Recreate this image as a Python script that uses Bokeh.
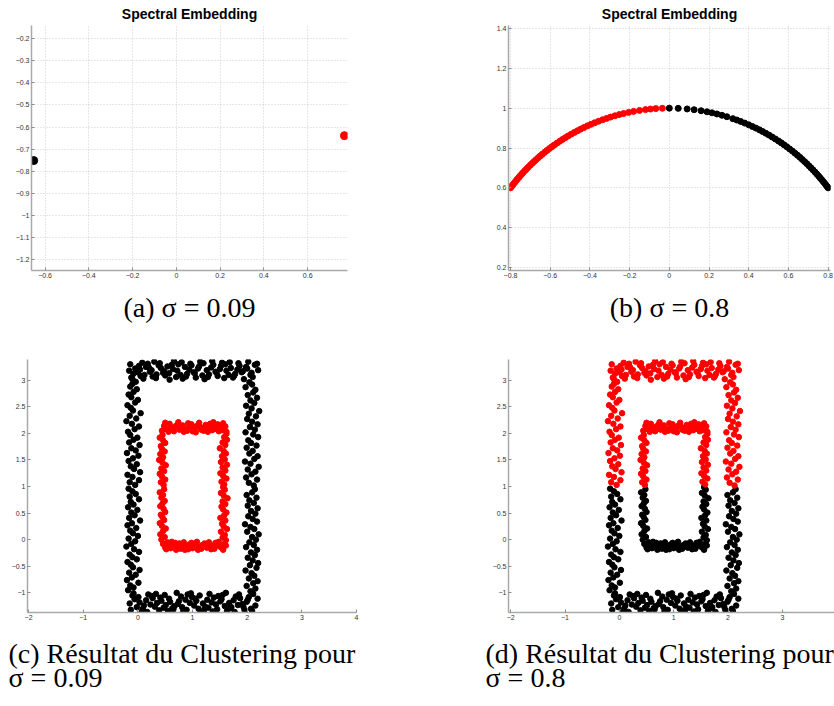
from bokeh.plotting import figure
from bokeh.models import Range1d, FixedTicker, Title
from bokeh.layouts import column, row
from bokeh.embed import file_html
from bokeh.resources import INLINE

RED = "#ff0000"
BLACK = "#000000"

# ---------------- (a) spectral embedding, sigma = 0.09 ----------------
a_black_x = [-0.652]
a_black_y = [-0.752]
a_red_x = [0.768]
a_red_y = [-0.639]
a_xticks = [-0.6, -0.4, -0.2, 0, 0.2, 0.4, 0.6]
a_xlabels = ["\u22120.6", "\u22120.4", "\u22120.2", "0", "0.2", "0.4", "0.6"]
a_yticks = [-1.2, -1.1, -1, -0.9, -0.8, -0.7, -0.6, -0.5, -0.4, -0.3, -0.2]
a_ylabels = ["\u22121.2", "\u22121.1", "\u22121", "\u22120.9", "\u22120.8", "\u22120.7",
             "\u22120.6", "\u22120.5", "\u22120.4", "\u22120.3", "\u22120.2"]

# ---------------- (b) spectral embedding, sigma = 0.8 ----------------
b_red_x = [-0.800, -0.795, -0.790, -0.785, -0.778, -0.771, -0.765, -0.757, -0.750, -0.742,
           -0.735, -0.726, -0.718, -0.710, -0.700, -0.690, -0.681, -0.671, -0.660, -0.650,
           -0.640, -0.628, -0.616, -0.604, -0.592, -0.580, -0.566, -0.552, -0.538, -0.524,
           -0.510, -0.494, -0.478, -0.462, -0.446, -0.430, -0.412, -0.394, -0.376, -0.356,
           -0.336, -0.316, -0.296, -0.274, -0.252, -0.230, -0.205, -0.180, -0.150, -0.120,
           -0.095, -0.068, -0.035]
b_red_y = [0.6000, 0.6066, 0.6131, 0.6195, 0.6283, 0.6369, 0.6440, 0.6534, 0.6614, 0.6704,
           0.6781, 0.6877, 0.6961, 0.7042, 0.7141, 0.7238, 0.7323, 0.7415, 0.7513, 0.7599,
           0.7684, 0.7782, 0.7877, 0.7970, 0.8059, 0.8146, 0.8244, 0.8338, 0.8430, 0.8517,
           0.8602, 0.8695, 0.8784, 0.8869, 0.8951, 0.9028, 0.9112, 0.9191, 0.9266, 0.9345,
           0.9419, 0.9487, 0.9552, 0.9617, 0.9677, 0.9732, 0.9788, 0.9837, 0.9887, 0.9928,
           0.9955, 0.9977, 0.9994]
b_black_x = [0.000, 0.045, 0.090, 0.125, 0.160, 0.190, 0.215, 0.240, 0.265, 0.290,
             0.320, 0.340, 0.360, 0.380, 0.400, 0.418, 0.436, 0.454, 0.470, 0.486,
             0.502, 0.518, 0.534, 0.550, 0.564, 0.578, 0.592, 0.606, 0.620, 0.633,
             0.646, 0.658, 0.670, 0.682, 0.693, 0.704, 0.714, 0.724, 0.734, 0.743,
             0.752, 0.760, 0.768, 0.776, 0.783, 0.790, 0.796, 0.800]
b_black_y = [1.0000, 0.9990, 0.9959, 0.9922, 0.9871, 0.9818, 0.9766, 0.9708, 0.9642, 0.9570,
             0.9474, 0.9404, 0.9330, 0.9250, 0.9165, 0.9084, 0.9000, 0.8910, 0.8827, 0.8740,
             0.8649, 0.8554, 0.8455, 0.8352, 0.8258, 0.8160, 0.8059, 0.7955, 0.7846, 0.7741,
             0.7633, 0.7530, 0.7424, 0.7314, 0.7210, 0.7102, 0.7001, 0.6898, 0.6791, 0.6693,
             0.6592, 0.6499, 0.6405, 0.6307, 0.6220, 0.6131, 0.6055, 0.6000]
b_xticks = [-0.8, -0.6, -0.4, -0.2, 0, 0.2, 0.4, 0.6, 0.8]
b_xlabels = ["\u22120.8", "\u22120.6", "\u22120.4", "\u22120.2", "0", "0.2", "0.4", "0.6", "0.8"]
b_yticks = [0.2, 0.4, 0.6, 0.8, 1, 1.2, 1.4]
b_ylabels = ["0.2", "0.4", "0.6", "0.8", "1", "1.2", "1.4"]

# ---------------- (c)/(d) data set: two noisy rectangles ----------------
# outer rectangle, top band
ot_x = [-0.16, -0.12, -0.14, -0.08, -0.05, -0.10, 0.02, 0.00, 0.05, 0.08,
        0.04, 0.12, 0.15, 0.10, 0.18, 0.22, 0.20, 0.27, 0.30, 0.25,
        0.34, 0.38, 0.33, 0.42, 0.46, 0.40, 0.50, 0.54, 0.48, 0.58,
        0.62, 0.57, 0.66, 0.70, 0.64, 0.74, 0.78, 0.72, 0.82, 0.86,
        0.80, 0.90, 0.94, 0.88, 0.98, 1.02, 0.96, 1.06, 1.10, 1.04,
        1.14, 1.18, 1.12, 1.22, 1.26, 1.20, 1.30, 1.34, 1.28, 1.38,
        1.42, 1.36, 1.46, 1.50, 1.44, 1.54, 1.58, 1.52, 1.62, 1.66,
        1.60, 1.70, 1.74, 1.68, 1.78, 1.82, 1.76, 1.86, 1.90, 1.84,
        1.94, 1.98, 1.92, 2.02, 2.06, 2.00, 2.10, 2.14, 2.08, 2.18, 2.20]
ot_y = [3.18, 3.05, 3.30, 3.12, 3.22, 3.02, 3.27, 3.15, 3.08, 3.33,
        3.20, 3.10, 3.25, 3.03, 3.31, 3.16, 3.24, 3.07, 3.35, 3.19,
        3.11, 3.28, 3.04, 3.23, 3.14, 3.32, 3.09, 3.26, 3.17, 3.01,
        3.29, 3.13, 3.36, 3.06, 3.21, 3.30, 3.10, 3.18, 3.03, 3.25,
        3.34, 3.12, 3.20, 3.07, 3.28, 3.15, 3.31, 3.05, 3.22, 3.13,
        3.35, 3.09, 3.26, 3.02, 3.19, 3.32, 3.11, 3.24, 3.06, 3.29,
        3.16, 3.36, 3.08, 3.21, 3.14, 3.33, 3.04, 3.27, 3.18, 3.10,
        3.30, 3.23, 3.05, 3.34, 3.12, 3.20, 3.08, 3.27, 3.15, 3.32,
        3.02, 3.25, 3.17, 3.35, 3.10, 3.22, 3.06, 3.29, 3.14, 3.31, 3.19]
# outer rectangle, bottom band
ob_x = [-0.15, -0.10, -0.13, -0.06, -0.02, -0.08, 0.03, 0.07, 0.01, 0.11,
        0.15, 0.09, 0.19, 0.23, 0.17, 0.27, 0.31, 0.25, 0.35, 0.39,
        0.33, 0.43, 0.47, 0.41, 0.51, 0.55, 0.49, 0.59, 0.63, 0.57,
        0.67, 0.71, 0.65, 0.75, 0.79, 0.73, 0.83, 0.87, 0.81, 0.91,
        0.95, 0.89, 0.99, 1.03, 0.97, 1.07, 1.11, 1.05, 1.15, 1.19,
        1.13, 1.23, 1.27, 1.21, 1.31, 1.35, 1.29, 1.39, 1.43, 1.37,
        1.47, 1.51, 1.45, 1.55, 1.59, 1.53, 1.63, 1.67, 1.61, 1.71,
        1.75, 1.69, 1.79, 1.83, 1.77, 1.87, 1.91, 1.85, 1.95, 1.99,
        1.93, 2.03, 2.07, 2.01, 2.11, 2.15, 2.09, 2.19]
ob_y = [-1.20, -1.05, -1.32, -1.12, -1.27, -1.01, -1.18, -1.35, -1.08, -1.24,
        -1.14, -1.30, -1.03, -1.22, -1.36, -1.10, -1.26, -1.06, -1.19, -1.33,
        -1.02, -1.15, -1.28, -1.09, -1.23, -1.34, -1.04, -1.17, -1.29, -1.11,
        -1.25, -1.00, -1.31, -1.16, -1.07, -1.21, -1.35, -1.13, -1.27, -1.03,
        -1.19, -1.32, -1.08, -1.24, -1.01, -1.15, -1.30, -1.11, -1.36, -1.20,
        -1.05, -1.26, -1.13, -1.33, -1.02, -1.18, -1.28, -1.09, -1.22, -1.35,
        -1.06, -1.16, -1.31, -1.04, -1.25, -1.12, -1.34, -1.19, -1.00, -1.27,
        -1.14, -1.29, -1.07, -1.23, -1.36, -1.10, -1.21, -1.03, -1.32, -1.17,
        -1.26, -1.08, -1.30, -1.13, -1.02, -1.24, -1.34, -1.11]
# outer rectangle, left side (upper / lower half)
olu_x = [-0.05, -0.15, 0.02, -0.10, -0.19, 0.04, -0.07, -0.13, -0.02, -0.17,
         -0.09, 0.01, -0.20, -0.04, -0.12, 0.03, -0.16, -0.08, -0.01, -0.14,
         -0.18, -0.06, 0.02, -0.11, -0.21, -0.03, -0.15, 0.05, -0.09, -0.13,
         -0.19, -0.05, 0.00, -0.12, -0.17, -0.08, -0.02, -0.14, -0.10, -0.04]
olu_y = [1.03, 1.08, 1.12, 1.18, 1.22, 1.27, 1.33, 1.38, 1.42, 1.48,
         1.53, 1.58, 1.63, 1.68, 1.72, 1.78, 1.83, 1.88, 1.92, 1.97,
         2.03, 2.08, 2.13, 2.18, 2.23, 2.28, 2.33, 2.38, 2.43, 2.48,
         2.53, 2.58, 2.63, 2.68, 2.73, 2.78, 2.83, 2.88, 2.93, 2.97]
oll_x = [-0.18, -0.08, -0.14, 0.01, -0.20, -0.11, -0.04, -0.16, 0.03, -0.09,
         -0.13, -0.19, -0.02, -0.10, -0.15, 0.02, -0.07, -0.21, -0.12, -0.05,
         -0.17, 0.00, -0.09, -0.14, -0.03, -0.19, -0.11, 0.04, -0.16, -0.06,
         -0.12, -0.01, -0.18, -0.08, -0.13, 0.02, -0.15, -0.04, -0.10, -0.17]
oll_y = [-0.95, -0.90, -0.86, -0.81, -0.76, -0.71, -0.66, -0.62, -0.57, -0.52,
         -0.47, -0.42, -0.37, -0.33, -0.28, -0.23, -0.18, -0.13, -0.08, -0.03,
         0.02, 0.07, 0.12, 0.17, 0.22, 0.27, 0.31, 0.36, 0.41, 0.46,
         0.51, 0.56, 0.61, 0.66, 0.71, 0.76, 0.81, 0.86, 0.91, 0.96]
# outer rectangle, right side (upper / lower half)
oru_x = [2.12, 2.03, 2.18, 1.98, 2.08, 2.15, 2.01, 2.21, 2.06, 1.96,
         2.13, 2.19, 2.04, 2.10, 1.99, 2.17, 2.07, 2.02, 2.20, 2.11,
         1.97, 2.14, 2.05, 2.19, 2.09, 2.00, 2.16, 2.03, 2.22, 2.08,
         1.98, 2.13, 2.06, 2.18, 2.01, 2.11, 2.15, 1.97, 2.09, 2.04]
oru_y = [1.02, 1.07, 1.13, 1.17, 1.23, 1.28, 1.32, 1.37, 1.43, 1.47,
         1.52, 1.57, 1.62, 1.67, 1.73, 1.77, 1.82, 1.87, 1.93, 1.98,
         2.02, 2.07, 2.12, 2.17, 2.22, 2.27, 2.32, 2.37, 2.42, 2.47,
         2.52, 2.57, 2.62, 2.67, 2.72, 2.77, 2.82, 2.87, 2.92, 2.96]
orl_x = [2.06, 2.15, 1.99, 2.11, 2.19, 2.03, 2.13, 2.08, 1.97, 2.17,
         2.05, 2.20, 2.10, 2.01, 2.14, 2.07, 2.18, 1.98, 2.12, 2.04,
         2.16, 2.09, 2.21, 2.00, 2.13, 2.06, 1.96, 2.18, 2.10, 2.02,
         2.15, 2.07, 2.19, 2.01, 2.12, 2.04, 2.17, 1.99, 2.09, 2.14]
orl_y = [-0.97, -0.92, -0.87, -0.82, -0.78, -0.73, -0.68, -0.63, -0.58, -0.53,
         -0.48, -0.44, -0.39, -0.34, -0.29, -0.24, -0.19, -0.14, -0.10, -0.05,
         0.00, 0.05, 0.10, 0.15, 0.20, 0.24, 0.29, 0.34, 0.39, 0.44,
         0.49, 0.54, 0.59, 0.64, 0.69, 0.74, 0.79, 0.84, 0.89, 0.95]
# inner rectangle, top / bottom bands
it_x = [0.44, 0.48, 0.52, 0.50, 0.56, 0.60, 0.58, 0.64, 0.68, 0.66,
        0.72, 0.76, 0.74, 0.80, 0.84, 0.82, 0.88, 0.92, 0.90, 0.96,
        1.00, 0.98, 1.04, 1.08, 1.06, 1.12, 1.16, 1.14, 1.20, 1.24,
        1.22, 1.28, 1.32, 1.30, 1.36, 1.40, 1.38, 1.44, 1.48, 1.46,
        1.52, 1.56, 1.54, 1.60, 1.62]
it_y = [2.05, 2.14, 2.08, 2.20, 2.03, 2.11, 2.18, 2.06, 2.13, 2.04,
        2.16, 2.07, 2.21, 2.10, 2.03, 2.15, 2.08, 2.19, 2.05, 2.12,
        2.04, 2.17, 2.09, 2.14, 2.02, 2.20, 2.07, 2.12, 2.05, 2.16,
        2.09, 2.03, 2.18, 2.11, 2.06, 2.14, 2.21, 2.08, 2.04, 2.17,
        2.10, 2.19, 2.06, 2.13, 2.03]
ib_x = [0.46, 0.50, 0.54, 0.52, 0.58, 0.62, 0.60, 0.66, 0.70, 0.68,
        0.74, 0.78, 0.76, 0.82, 0.86, 0.84, 0.90, 0.94, 0.92, 0.98,
        1.02, 1.00, 1.06, 1.10, 1.08, 1.14, 1.18, 1.16, 1.22, 1.26,
        1.24, 1.30, 1.34, 1.32, 1.38, 1.42, 1.40, 1.46, 1.50, 1.48,
        1.54, 1.58, 1.56, 1.61]
ib_y = [-0.08, -0.15, -0.05, -0.18, -0.11, -0.04, -0.16, -0.09, -0.19, -0.06,
        -0.13, -0.17, -0.07, -0.12, -0.19, -0.05, -0.14, -0.09, -0.18, -0.06,
        -0.12, -0.16, -0.08, -0.19, -0.04, -0.13, -0.10, -0.17, -0.07, -0.15,
        -0.11, -0.05, -0.18, -0.09, -0.14, -0.06, -0.17, -0.10, -0.13, -0.04,
        -0.16, -0.08, -0.19, -0.11]
# inner rectangle, left / right sides (upper / lower half)
ilu_x = [0.47, 0.42, 0.50, 0.44, 0.40, 0.48, 0.43, 0.51, 0.45, 0.39,
         0.46, 0.41, 0.49, 0.44, 0.42, 0.50, 0.46, 0.40, 0.45]
ilu_y = [1.03, 1.08, 1.13, 1.19, 1.24, 1.29, 1.34, 1.40, 1.45, 1.50,
         1.55, 1.61, 1.66, 1.71, 1.76, 1.82, 1.87, 1.92, 1.97]
ill_x = [0.43, 0.49, 0.41, 0.46, 0.51, 0.44, 0.40, 0.48, 0.45, 0.42,
         0.50, 0.47, 0.41, 0.45, 0.49, 0.43, 0.46, 0.40, 0.48]
ill_y = [0.00, 0.05, 0.10, 0.16, 0.21, 0.26, 0.31, 0.37, 0.42, 0.47,
         0.52, 0.58, 0.63, 0.68, 0.73, 0.79, 0.84, 0.89, 0.95]
iru_x = [1.58, 1.53, 1.62, 1.56, 1.51, 1.60, 1.55, 1.63, 1.52, 1.59,
         1.54, 1.61, 1.57, 1.50, 1.60, 1.55, 1.63, 1.58, 1.62]
iru_y = [1.04, 1.09, 1.15, 1.20, 1.25, 1.30, 1.36, 1.41, 1.46, 1.51,
         1.57, 1.62, 1.67, 1.72, 1.78, 1.83, 1.88, 1.93, 1.99]
irl_x = [1.61, 1.55, 1.59, 1.52, 1.63, 1.57, 1.54, 1.60, 1.51, 1.58,
         1.62, 1.56, 1.53, 1.60, 1.55, 1.64, 1.57, 1.52, 1.59, 1.56]
irl_y = [-0.01, 0.04, 0.09, 0.15, 0.20, 0.25, 0.30, 0.36, 0.41, 0.46,
         0.51, 0.57, 0.62, 0.67, 0.72, 0.78, 0.83, 0.88, 0.94, 0.99]

cd_xticks = [-2, -1, 0, 1, 2, 3, 4]
cd_xlabels = ["\u22122", "\u22121", "0", "1", "2", "3", "4"]
cd_yticks = [-1, -0.5, 0, 0.5, 1, 1.5, 2, 2.5, 3]
cd_ylabels = ["\u22121", "\u22120.5", "0", "0.5", "1", "1.5", "2", "2.5", "3"]

outer_segments = [(ot_x, ot_y), (ob_x, ob_y), (olu_x, olu_y), (oll_x, oll_y),
                  (oru_x, oru_y), (orl_x, orl_y)]
inner_segments = [(it_x, it_y), (ib_x, ib_y), (ilu_x, ilu_y), (ill_x, ill_y),
                  (iru_x, iru_y), (irl_x, irl_y)]
upper_segments = [(ot_x, ot_y), (olu_x, olu_y), (oru_x, oru_y),
                  (it_x, it_y), (ilu_x, ilu_y), (iru_x, iru_y)]
lower_segments = [(ob_x, ob_y), (oll_x, oll_y), (orl_x, orl_y),
                  (ib_x, ib_y), (ill_x, ill_y), (irl_x, irl_y)]

TICK_FONT = "Liberation Sans"
CAP_FONT = "Liberation Serif"


def make_fig(w, h, xr, yr, bl, br, bt, bb, xt, xl, yt, yl, grid, title=None):
    p = figure(width=w, height=h, x_range=Range1d(*xr), y_range=Range1d(*yr),
               output_backend="svg", toolbar_location=None, title=title,
               min_border_left=bl, min_border_right=br,
               min_border_top=bt, min_border_bottom=bb)
    p.outline_line_color = None
    p.background_fill_color = "white"
    p.border_fill_color = "white"
    for ax, t, l in ((p.xaxis[0], xt, xl), (p.yaxis[0], yt, yl)):
        ax.ticker = FixedTicker(ticks=t)
        ax.major_label_overrides = dict(zip(t, l))
        ax.axis_line_color = "#a9a9a9"
        ax.axis_line_width = 1.5
        ax.major_tick_line_color = "#8c8c8c"
        ax.major_tick_in = 3
        ax.major_tick_out = 0
        ax.minor_tick_line_color = None
        ax.major_label_text_font = TICK_FONT
        ax.major_label_text_font_size = "7px"
        ax.major_label_text_color = "#333333"
        ax.major_label_standoff = 2
    if grid:
        p.grid.grid_line_color = "#cfcfcf"
        p.grid.grid_line_dash = "1 2"
        p.grid.grid_line_width = 1
    else:
        p.grid.grid_line_color = None
    if title is not None:
        p.title.align = "center"
        p.title.text_font = TICK_FONT
        p.title.text_font_style = "bold"
        p.title.text_font_size = "14px"
        p.title.text_color = "#000000"
        p.title.standoff = 7
    return p


def caption(p, text, align="center", offset=0, standoff=10, line_height=1.0):
    t = Title(text=text, align=align, offset=offset, standoff=standoff,
              text_font=CAP_FONT, text_font_size="28px", text_line_height=line_height,
              text_font_style="normal", text_color="#000000")
    p.add_layout(t, "below")


# (a)
pa = make_fig(421, 345, (-0.662, 0.782), (-1.25, -0.14), 31, 74, 25, 75,
              a_xticks, a_xlabels, a_yticks, a_ylabels, True, "Spectral Embedding")
pa.scatter(a_black_x, a_black_y, size=8, color=BLACK)
pa.scatter(a_red_x, a_red_y, size=8, color=RED)
caption(pa, "(a) \u03c3 = 0.09", offset=-6, standoff=19)

# (b)
pb = make_fig(413, 345, (-0.81, 0.812), (0.185, 1.415), 87, 4, 25, 75,
              b_xticks, b_xlabels, b_yticks, b_ylabels, True, "Spectral Embedding")
pb.scatter(b_red_x, b_red_y, size=6, color=RED)
pb.scatter(b_black_x, b_black_y, size=6, color=BLACK)
caption(pb, "(b) \u03c3 = 0.8", standoff=19)

# (c)
pc = make_fig(421, 361, (-2.02, 4.0), (-1.37, 3.39), 27, 65, 14, 87,
              cd_xticks, cd_xlabels, cd_yticks, cd_ylabels, False)
for sx, sy in outer_segments:
    pc.scatter(sx, sy, size=5.5, color=BLACK)
for sx, sy in inner_segments:
    pc.scatter(sx, sy, size=5.5, color=RED)
caption(pc, "(c) R\u00e9sultat du Clustering pour\n\u03c3 = 0.09", align="left",
        offset=-19, standoff=27, line_height=0.76)

# (d)
pd_ = make_fig(413, 361, (-2.04, 3.96), (-1.37, 3.39), 87, 0, 14, 87,
               cd_xticks, cd_xlabels, cd_yticks, cd_ylabels, False)
for sx, sy in lower_segments:
    pd_.scatter(sx, sy, size=5.5, color=BLACK)
for sx, sy in upper_segments:
    pd_.scatter(sx, sy, size=5.5, color=RED)
caption(pd_, "(d) R\u00e9sultat du Clustering pour\n\u03c3 = 0.8", align="left",
        offset=-23, standoff=27, line_height=0.76)

layout = column(row(pa, pb), row(pc, pd_))
open("out.html", "w").write(file_html(layout, INLINE))
